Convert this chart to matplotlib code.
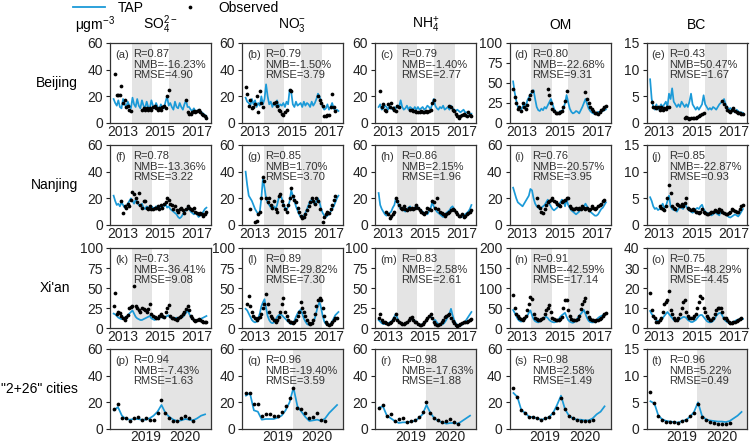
import numpy as np
import matplotlib.pyplot as plt
from matplotlib.lines import Line2D

nan = np.nan

# ---- Beijing, monthly 2013-2017 ----
bj_so4_tap = [18, 15, 13, 17, 12, 11, 18, 14, 12, 16, 13, 11,
              19, 14, 12, 18, 13, 11, 17, 13, 11, 16, 12, 11,
              17, 13, 11, 15, 12, 10, 14, 12, 11, 16, 20, 13,
              15, 12, 10, 16, 12, 11, 15, 12, 10, 14, 17, 12,
              12, 10, 9, 11, 9, 8, 10, 9, 8, 7, 6, 5]
bj_so4_obs = [nan, 37, 21, 21, 21, 28, 15, 17, 12, 13, 10, 9,
              nan, nan, nan, nan, nan, nan, 10, 11, 10, 11, 10, 11,
              10, 12, 13, 11, 10, 11, 10, 12, 13, 11, 20, 25,
              nan, nan, nan, nan, nan, nan, nan, nan, nan, nan, 17, 8,
              7, 7, 8, 9, 8, 9, 10, 8, 7, 6, 5, 4]
bj_no3_tap = [19, 16, 15, 13, 18, 14, 17, 12, 15, 13, 20, 14,
              18, 29, 20, 14, 16, 12, 15, 13, 17, 12, 14, 13,
              15, 12, 16, 14, 25, 23, 14, 12, 16, 13, 14, 15,
              12, 16, 13, 15, 14, 12, 16, 13, 15, 18, 22, 20,
              16, 12, 10, 11, 14, 10, 12, 15, 11, 9, 10, 9]
bj_no3_obs = [27, 22, 13, 17, 11, 12, 14, 20, 8, 24, 15, 12,
              nan, nan, nan, nan, nan, nan, 15, 16, 13, 10, 9, 7,
              6, 8, 10, nan, 25, 24, nan, nan, nan, nan, nan, nan,
              nan, nan, nan, nan, nan, nan, nan, nan, nan, nan, 20, 17,
              15, 13, 5, 5, 6, 6, 12, 22, 12, 9, nan, nan]
bj_nh4_tap = [12, 14, 10, 11, 13, 12, 10, 13, 11, 10, 12, 11,
              13, 12, 17, 12, 10, 11, 13, 10, 12, 11, 10, 12,
              10, 12, 10, 11, 12, 10, 11, 13, 12, 10, 14, 18,
              13, 11, 10, 12, 11, 13, 10, 11, 12, 10, 13, 11,
              10, 9, 10, 9, 8, 9, 10, 8, 8, 7, 7, 7]
bj_nh4_obs = [nan, 24, 12, 14, 10, 9, 14, 12, 15, 11, 10, 9,
              13, 12, nan, nan, nan, nan, nan, nan, 10, 10, 9, 9,
              8, 8, 8, 9, 8, 8, 9, 8, 9, 10, 15, 17,
              nan, nan, nan, nan, nan, nan, nan, nan, nan, 13, 12, 10,
              9, 7, 5, 4, 5, 6, 7, 6, 5, 8, 6, 5]
bj_om_tap = [52, 38, 28, 20, 17, 16, 20, 25, 20, 28, 32, 36,
             38, 41, 30, 20, 16, 15, 18, 16, 20, 18, 22, 26,
             30, 24, 18, 14, 12, 13, 15, 14, 18, 25, 35, 26,
             18, 14, 12, 13, 15, 14, 12, 16, 20, 25, 30, 24,
             18, 15, 13, 12, 11, 12, 14, 13, 14, 15, 16, 17]
bj_om_obs = [42, 32, 25, 18, 20, 15, 25, 20, 18, 22, 30, 35,
             40, nan, nan, nan, nan, nan, nan, nan, nan, nan, 43, 35,
             25, 18, 15, 13, 12, 13, 14, 15, 20, 28, 40, nan,
             nan, nan, nan, nan, nan, nan, nan, nan, nan, nan, 39, 30,
             25, 20, 17, 15, 13, 12, 11, 14, 16, 18, 20, 21]
bj_bc_tap = [8.2, 4.5, 3.0, 2.5, 3.5, 2.5, 3.0, 3.5, 3.0, 3.5, 4.0, 3.0,
             5.5, 4.5, 6.5, 4.0, 3.5, 3.0, 3.5, 3.0, 4.0, 3.5, 3.0, 3.5,
             3.0, 4.0, 5.5, 3.5, 3.0, 2.5, 3.0, 2.5, 3.0, 3.5, 5.2, 3.5,
             3.0, 2.5, 2.8, 2.5, 3.0, 2.8, 2.5, 3.0, 3.5, 3.8, 4.0, 4.5,
             3.5, 3.0, 2.5, 2.8, 2.5, 2.2, 2.0, 2.5, 2.2, 2.0, 2.0, 1.9]
bj_bc_obs = [nan, 4.0, 3.0, 3.0, 2.8, 3.0, 2.5, 3.0, 2.5, 2.8, 2.6, 3.0,
             3.0, nan, nan, nan, nan, nan, nan, nan, nan, nan, 1.0, 1.2,
             1.0, 0.8, 0.9, 1.0, 0.9, 1.0, 1.2, 1.3, 1.5, 1.7, 1.9, nan,
             nan, nan, nan, nan, nan, nan, nan, nan, nan, nan, 4.2, 3.5,
             3.0, 2.5, 2.2, 2.0, 2.5, 2.8, 2.3, 2.0, 1.8, 1.8, 1.7, 1.7]

# ---- Nanjing ----
nj_so4_tap = [22, 18, 15, 16, 14, 17, 15, 13, 14, 16, 18, 20,
              18, 16, 19, 17, 15, 14, 16, 13, 12, 14, 13, 12,
              14, 13, 12, 14, 13, 12, 13, 15, 14, 16, 13, 14,
              12, 11, 10, 9, 8, 6, 5, 6, 8, 10, 11, 13,
              12, 10, 9, 8, 9, 8, 6, 7, 8, 10, 12, 13]
nj_so4_obs = [nan, nan, nan, nan, nan, 18, 9, 14, 13, 16, 14, 19,
              25, 23, 20, 17, 24, 15, 13, 18, 18, 13, 12, 14,
              12, 12, 13, 13, 14, 12, 15, 13, 16, 17, 20, 19,
              16, 15, 12, 14, 11, 10, 12, 13, 11, 9, 12, 14,
              13, 12, 11, 13, 10, 9, 8, 9, 8, 7, 8, 10]
nj_no3_tap = [40, 30, 22, 20, 18, 15, 12, 10, 8, 10, 20, 35,
              28, 20, 17, 15, 13, 12, 14, 12, 15, 20, 23, 20,
              16, 13, 11, 14, 18, 26, 22, 18, 14, 11, 8, 6,
              5, 7, 9, 12, 15, 18, 19, 17, 15, 18, 20, 17,
              12, 9, 7, 6, 7, 8, 10, 12, 14, 17, 20, 22]
nj_no3_obs = [nan, nan, nan, 12, nan, nan, 2, 3, 8, 10, 20, 36,
              33, 20, 17, 20, 15, 13, 18, 12, 10, 22, 23, 18,
              15, 12, 10, 15, 20, 28, 22, 19, 17, 13, 10, 7,
              5, 6, 8, 11, 14, 17, 20, 18, 16, 20, 18, 12,
              nan, 2, 6, 8, 10, 9, 12, 15, 19, 22, nan, nan]
nj_nh4_tap = [24, 15, 12, 10, 8, 7, 8, 9, 10, 13, 15, 20,
              17, 14, 12, 13, 11, 10, 12, 13, 14, 12, 11, 13,
              15, 13, 12, 11, 10, 9, 9, 8, 10, 12, 17, 14,
              12, 10, 9, 8, 7, 6, 7, 9, 10, 11, 13, 14,
              12, 10, 9, 7, 6, 6, 7, 8, 9, 10, 12, 15]
nj_nh4_obs = [nan, nan, nan, nan, nan, 10, 8, 5, 7, 8, 10, 20,
              18, 15, 13, 12, 14, 12, 11, 13, 12, 13, 12, 13,
              15, 13, 11, 10, 9, 8, 10, 13, 12, 11, 18, 17,
              13, 20, 12, 10, 9, 8, 7, 8, 9, 10, 11, 12,
              11, 10, 8, 7, 7, 8, 6, 7, 8, 9, 10, 11]
nj_om_tap = [28, 24, 20, 17, 16, 15, 14, 16, 18, 20, 22, 27,
             26, 20, 16, 14, 13, 12, 13, 14, 15, 17, 19, 16,
             14, 12, 11, 12, 13, 15, 17, 19, 18, 14, 19, 15,
             13, 11, 10, 9, 8, 9, 10, 12, 13, 14, 16, 14,
             12, 10, 9, 8, 7, 7, 8, 10, 12, 13, 15, 17]
nj_om_obs = [nan, nan, nan, nan, nan, nan, nan, nan, nan, nan, nan, nan,
             nan, nan, nan, 20, 14, 13, 10, 9, 12, 15, 17, 18,
             19, 20, 18, 17, 16, 15, 14, 17, 18, 19, 20, 20,
             14, 13, 12, 12, 13, 12, 13, 12, 14, 13, 12, 13,
             11, 12, 14, 13, 12, 13, 14, 15, 16, 18, 19, nan]
nj_bc_tap = [5.2, 4.5, 3.5, 3.0, 3.2, 2.8, 3.0, 3.5, 4.0, 3.2, 3.5, 4.5,
             5.5, 3.5, 3.0, 2.8, 3.0, 2.5, 3.0, 3.5, 3.2, 3.0, 4.0, 3.5,
             3.0, 2.7, 2.5, 2.3, 2.5, 3.0, 3.2, 3.0, 3.5, 3.8, 3.0, 2.5,
             2.3, 2.2, 2.0, 1.8, 2.0, 2.5, 2.2, 2.0, 1.8, 2.8, 2.5, 2.2,
             2.0, 1.8, 1.5, 1.4, 1.6, 1.8, 2.0, 1.8, 1.6, 2.0, 2.5, 3.0]
nj_bc_obs = [nan, nan, nan, nan, nan, nan, 3.5, 3.2, 3.0, 2.8, 3.5, 5.0,
             7.5, 6.0, 3.5, 3.2, 3.0, 4.0, 3.8, 3.5, 4.0, 3.5, 4.2, 5.0,
             3.2, 3.0, 2.8, 3.0, 2.8, 2.5, 2.5, 2.2, 2.5, 3.0, 2.5, 2.2,
             2.0, 2.0, 2.2, 2.5, 2.5, 2.8, 2.7, 2.5, 3.0, 2.8, 2.5, 2.2,
             2.0, 2.0, 2.2, 2.5, 3.0, 2.8, 2.6, 2.4, 2.5, 3.0, 3.5, 3.8]

# ---- Xi'an ----
xa_so4_tap = [18, 17, 15, 13, 12, 11, 12, 13, 14, 16, 18, 20,
              22, 18, 14, 12, 11, 10, 10, 11, 12, 13, 14, 15,
              12, 11, 10, 11, 12, 13, 14, 13, 12, 14, 15, 16,
              13, 12, 11, 12, 13, 12, 12, 13, 14, 16, 19, 22,
              18, 14, 11, 10, 9, 9, 10, 11, 12, 13, 14, 15]
xa_so4_obs = [27, 44, 18, 20, 19, 15, 12, 10, 14, 16, 25, 26,
              28, 52, 28, 25, 22, 20, 25, 24, 22, 20, 24, 30,
              18, 15, 14, 13, 12, 15, 17, 15, 14, 20, 25, 29,
              15, 13, 12, 11, 10, 12, 14, 15, 18, 20, 24, 27,
              22, 15, 12, 10, 9, 10, 11, 10, 9, 8, 8, 7]
xa_no3_tap = [24, 22, 18, 14, 10, 8, 7, 8, 12, 18, 27, 32,
              36, 25, 15, 10, 7, 6, 7, 10, 14, 16, 17, 16,
              14, 12, 10, 8, 6, 5, 6, 9, 14, 18, 21, 23,
              18, 12, 8, 5, 4, 4, 5, 8, 12, 20, 28, 32,
              25, 15, 8, 5, 4, 4, 5, 8, 12, 16, 18, 20]
xa_no3_obs = [nan, 30, 40, 27, 20, 15, 12, 10, 12, 14, 18, 25,
              30, 42, 30, 20, 15, 12, 10, 8, 10, 14, 20, 30,
              37, 20, 15, 10, 8, 7, 6, 8, 10, 15, 20, 32,
              25, 20, 15, 10, 6, 5, 6, 10, 18, 28, 35, 38,
              35, 25, 15, 8, 5, 4, 5, 7, 10, 12, 12, nan]
xa_nh4_tap = [10, 8, 6, 5, 5, 5, 6, 7, 8, 10, 14, 18,
              12, 8, 6, 5, 4, 5, 6, 8, 10, 12, 11, 9,
              7, 5, 4, 4, 5, 6, 8, 11, 14, 15, 12, 10,
              10, 7, 5, 4, 4, 5, 7, 10, 14, 18, 24, 16,
              10, 6, 4, 3, 3, 4, 6, 8, 11, 14, 17, 20]
xa_nh4_obs = [12, 18, 10, 8, 7, 6, 5, 6, 8, 10, 13, 18,
              10, 8, 6, 5, 5, 6, 8, 10, 12, 14, 10, 7,
              7, 5, 4, 4, 5, 7, 10, 13, 15, 17, 12, 8,
              5, 4, 4, 5, 7, 10, 14, 15, 16, 17, 13, 9,
              6, 4, 3, 4, 5, 6, 7, 8, 8, 9, 10, 11]
xa_om_tap = [45, 38, 30, 22, 18, 16, 17, 20, 24, 30, 38, 44,
             32, 22, 17, 15, 14, 16, 20, 24, 26, 28, 25, 20,
             17, 15, 14, 15, 18, 22, 28, 32, 35, 38, 28, 20,
             16, 14, 13, 15, 18, 25, 30, 35, 40, 45, 35, 25,
             18, 15, 14, 14, 16, 20, 25, 28, 30, 32, 34, 35]
xa_om_obs = [82, 50, 35, 30, 25, 22, 20, 25, 30, 45, 60, 78,
             72, 35, 25, 22, 20, 20, 22, 25, 35, 45, 50, 58,
             40, 25, 22, 20, 19, 20, 22, 28, 50, 70, 70, 45,
             30, 22, 20, 19, 20, 22, 30, 48, 60, 68, 75, 40,
             28, 22, 20, 19, 18, 19, 20, 22, 25, 30, 35, 38]
xa_bc_tap = [8.5, 7.0, 6.0, 4.5, 4.0, 3.5, 3.5, 4.0, 5.0, 6.0, 7.0, 8.0,
             7.0, 6.0, 5.0, 4.0, 3.5, 3.5, 4.0, 4.5, 5.0, 5.5, 5.5, 5.0,
             4.0, 3.5, 3.0, 3.0, 3.5, 4.0, 5.0, 6.0, 6.5, 6.5, 5.5, 4.5,
             3.5, 3.0, 2.8, 3.0, 3.5, 4.5, 6.0, 7.0, 7.5, 7.5, 6.0, 4.5,
             3.5, 3.0, 2.5, 2.5, 2.8, 3.0, 3.5, 4.0, 4.2, 4.5, 4.5, 4.5]
xa_bc_obs = [17.5, 9.0, 6.0, 5.0, 3.0, 3.0, 4.0, 5.0, 8.0, 12.0, 13.0, 14.0,
             18.5, 9.0, 7.0, 5.0, 4.0, 4.0, 5.0, 7.0, 10.0, 13.0, 14.0, 8.0,
             6.0, 5.0, 5.0, 5.0, 6.0, 7.0, 10.0, 13.0, 16.0, 15.0, 10.0, 8.0,
             6.0, 5.0, 4.0, 4.0, 5.0, 7.0, 9.0, 10.0, 10.0, 10.0, 8.0, 5.0,
             5.0, 4.0, 3.0, 2.5, 2.5, 3.0, 3.0, 3.5, 4.0, 4.5, 5.0, nan]

# ---- "2+26" cities, monthly 2019-2020 ----
jjj_so4_tap = [14, 16.5, 10, 7.5, 7, 7.5, 7.5, 7, 7, 8, 10, 13,
               18, 12, 9, 7, 6, 6.5, 7.5, 7, 6.5, 8, 10, 11]
jjj_so4_obs = [15, 18.5, 8, 8.5, 6, 8, 9, 7, 8, 6.5, 7, 12,
               22, 12, 8, 6, 6, 8, 9.5, 8, 6, nan, nan, nan]
jjj_no3_tap = [25, 27, 14, 13, 7, 7.5, 7.5, 7.5, 8.5, 10, 14, 20,
               31, 17, 13, 9, 6, 6.5, 7, 6, 8, 12, 15, 18]
jjj_no3_obs = [27, 27, 19, 19, 10, 11, 11, 10, 10, 13, 17, 23,
               31, 16, 15, 12, 8, 9, 12, 7, 6, nan, nan, nan]
jjj_nh4_tap = [16, 17, 10, 8, 6, 4.5, 5, 5, 5.5, 6, 8, 11,
               18, 12, 8, 6, 5, 4, 4.5, 4.5, 4, 6, 8, 10]
jjj_nh4_obs = [16, 18, 10, 11, 6, 7.5, 8, 5.5, 6, 7, 9, 13,
               20, 12, 8, 6.5, 5, 6, 7.5, 5, 4, nan, nan, nan]
jjj_om_tap = [27, 24, 14, 12, 9, 9, 8, 7, 7.5, 9, 12, 18,
              25, 15, 10, 8, 7, 7, 6.5, 6.5, 8, 11, 13, 17]
jjj_om_obs = [31, 24, 14, 12, 9, 9, 8, 7, 8, 9, 12, 16,
              23, 15, 10, 8, 7, 6, 6, 6, 7, nan, nan, nan]
jjj_bc_tap = [5.2, 4.8, 2.5, 1.8, 1.5, 1.4, 1.3, 1.2, 1.5, 1.7, 2.3, 3.2,
              5.0, 2.5, 1.8, 1.6, 1.5, 1.4, 1.4, 1.3, 1.5, 2.0, 2.5, 3.2]
jjj_bc_obs = [7.0, 4.8, 2.5, 1.6, 1.4, 1.4, 1.3, 1.2, 1.5, 1.7, 2.4, 3.0,
              4.6, 2.2, 1.6, 1.3, 1.1, 1.0, 1.0, 1.0, 1.1, nan, nan, nan]

species = [r'SO$_4^{2-}$', r'NO$_3^{-}$', r'NH$_4^{+}$', 'OM', 'BC']
regions = ['Beijing', 'Nanjing', "Xi'an", '"2+26" cities']
letters = list('abcdefghijklmnopqrst')
r_vals = ['0.87', '0.79', '0.79', '0.80', '0.43',
          '0.78', '0.85', '0.86', '0.76', '0.85',
          '0.73', '0.89', '0.83', '0.91', '0.75',
          '0.94', '0.96', '0.98', '0.98', '0.96']
nmb_vals = ['-16.23', '-1.50', '-1.40', '-22.68', '50.47',
            '-13.36', '1.70', '2.15', '-20.57', '-22.87',
            '-36.41', '-29.82', '-2.58', '-42.59', '-48.29',
            '-7.43', '-19.40', '-17.63', '2.58', '5.22']
rmse_vals = ['4.90', '3.79', '2.77', '9.31', '1.67',
             '3.22', '3.70', '1.96', '3.95', '0.93',
             '9.08', '7.30', '2.61', '17.14', '4.45',
             '1.63', '3.59', '1.88', '1.49', '0.49']
y_max = [[60, 60, 60, 100, 15], [60, 60, 60, 60, 15],
         [100, 100, 100, 200, 40], [60, 60, 60, 60, 15]]
y_step = [[20, 20, 20, 25, 5], [20, 20, 20, 20, 5],
          [25, 25, 25, 50, 10], [20, 20, 20, 20, 5]]

tap_all = [[bj_so4_tap, bj_no3_tap, bj_nh4_tap, bj_om_tap, bj_bc_tap],
           [nj_so4_tap, nj_no3_tap, nj_nh4_tap, nj_om_tap, nj_bc_tap],
           [xa_so4_tap, xa_no3_tap, xa_nh4_tap, xa_om_tap, xa_bc_tap],
           [jjj_so4_tap, jjj_no3_tap, jjj_nh4_tap, jjj_om_tap, jjj_bc_tap]]
obs_all = [[bj_so4_obs, bj_no3_obs, bj_nh4_obs, bj_om_obs, bj_bc_obs],
           [nj_so4_obs, nj_no3_obs, nj_nh4_obs, nj_om_obs, nj_bc_obs],
           [xa_so4_obs, xa_no3_obs, xa_nh4_obs, xa_om_obs, xa_bc_obs],
           [jjj_so4_obs, jjj_no3_obs, jjj_nh4_obs, jjj_om_obs, jjj_bc_obs]]

plt.rcParams['font.family'] = ['Liberation Sans', 'DejaVu Sans']
plt.rcParams['mathtext.fontset'] = 'custom'
plt.rcParams['mathtext.rm'] = 'Liberation Sans'
plt.rcParams['mathtext.it'] = 'Liberation Sans:italic'
plt.rcParams['mathtext.bf'] = 'Liberation Sans:bold'

BLUE = '#1b9ad8'
BAND = '#e4e4e4'
TXT = '#333333'
W, H = 750, 445
col_left = [110, 242, 375, 509.5, 646.5]
row_top = [43, 145, 248, 349]
pw, ph = 101, 80

fig = plt.figure(figsize=(W / 100, H / 100), dpi=100)

x_month = 2013 + (np.arange(60) + 0.5) / 12
x_recent = np.arange(24)

for i in range(4):
    for j in range(5):
        k = i * 5 + j
        ax = fig.add_axes([col_left[j] / W, 1 - (row_top[i] + ph) / H, pw / W, ph / H])
        tap = np.array(tap_all[i][j], dtype=float)
        obs = np.array(obs_all[i][j], dtype=float)
        if i < 3:
            x = x_month
            ax.set_xlim(2012.85, 2018.2)
            ax.axvspan(2014.0, 2015.1, color=BAND, lw=0, zorder=0)
            ax.axvspan(2015.95, 2017.1, color=BAND, lw=0, zorder=0)
            ax.set_xticks([2013.5, 2015.5, 2017.45])
            ax.set_xticklabels(['2013', '2015', '2017'])
            xpad = 1.5
        else:
            x = x_recent
            ax.set_xlim(-1.0, 24.5)
            ax.axvspan(11.8, 24.5, color=BAND, lw=0, zorder=0)
            ax.set_xticks([8, 18])
            ax.set_xticklabels(['2019', '2020'])
            xpad = 0.5
        ax.plot(x, tap, color=BLUE, lw=1.25, zorder=2)
        ax.plot(x, obs, ls='none', marker='o', ms=2.7, color='black',
                mec='none', zorder=3)
        ym = y_max[i][j]
        ax.set_ylim(0, ym)
        ax.set_yticks(np.arange(0, ym + 0.1, y_step[i][j]))
        ax.tick_params(axis='y', direction='out', length=3, width=0.8,
                       labelsize=10, pad=2, colors='#222222')
        ax.tick_params(axis='x', length=0, labelsize=10, pad=xpad,
                       colors='#222222')
        for sp in ax.spines.values():
            sp.set_color(TXT)
            sp.set_linewidth(0.9)
        ax.text(0.05, 0.85, '(%s)' % letters[k], transform=ax.transAxes,
                fontsize=8, va='center', ha='left', color=TXT)
        tx = 0.26 if j == 2 else 0.225
        ax.text(tx, 0.865, 'R=' + r_vals[k], transform=ax.transAxes,
                fontsize=8, va='center', ha='left', color=TXT)
        ax.text(tx, 0.73, 'NMB=' + nmb_vals[k] + '%', transform=ax.transAxes,
                fontsize=8, va='center', ha='left', color=TXT)
        ax.text(tx, 0.595, 'RMSE=' + rmse_vals[k], transform=ax.transAxes,
                fontsize=8, va='center', ha='left', color=TXT)
        if j == 0:
            ax.set_ylabel(regions[i], rotation=0, ha='right', va='center',
                          fontsize=10, labelpad=7)
        if i == 0:
            fig.text((col_left[j] + pw / 2) / W, 1 - 25 / H, species[j],
                     ha='center', va='center', fontsize=10)

fig.text(75 / W, 1 - 25 / H, r'μgm$^{-3}$', ha='left', va='center', fontsize=10)

handles = [Line2D([], [], color=BLUE, lw=1.3),
           Line2D([], [], ls='none', marker='o', ms=2.7, color='black', mec='none')]
fig.legend(handles, ['TAP', 'Observed'], loc='upper left',
           bbox_to_anchor=(73 / W, 0.997), ncol=2, frameon=False, fontsize=10,
           handlelength=2.3, handletextpad=0.9, columnspacing=2.2,
           borderpad=0, borderaxespad=0)

fig.savefig('out.png', dpi=100)
